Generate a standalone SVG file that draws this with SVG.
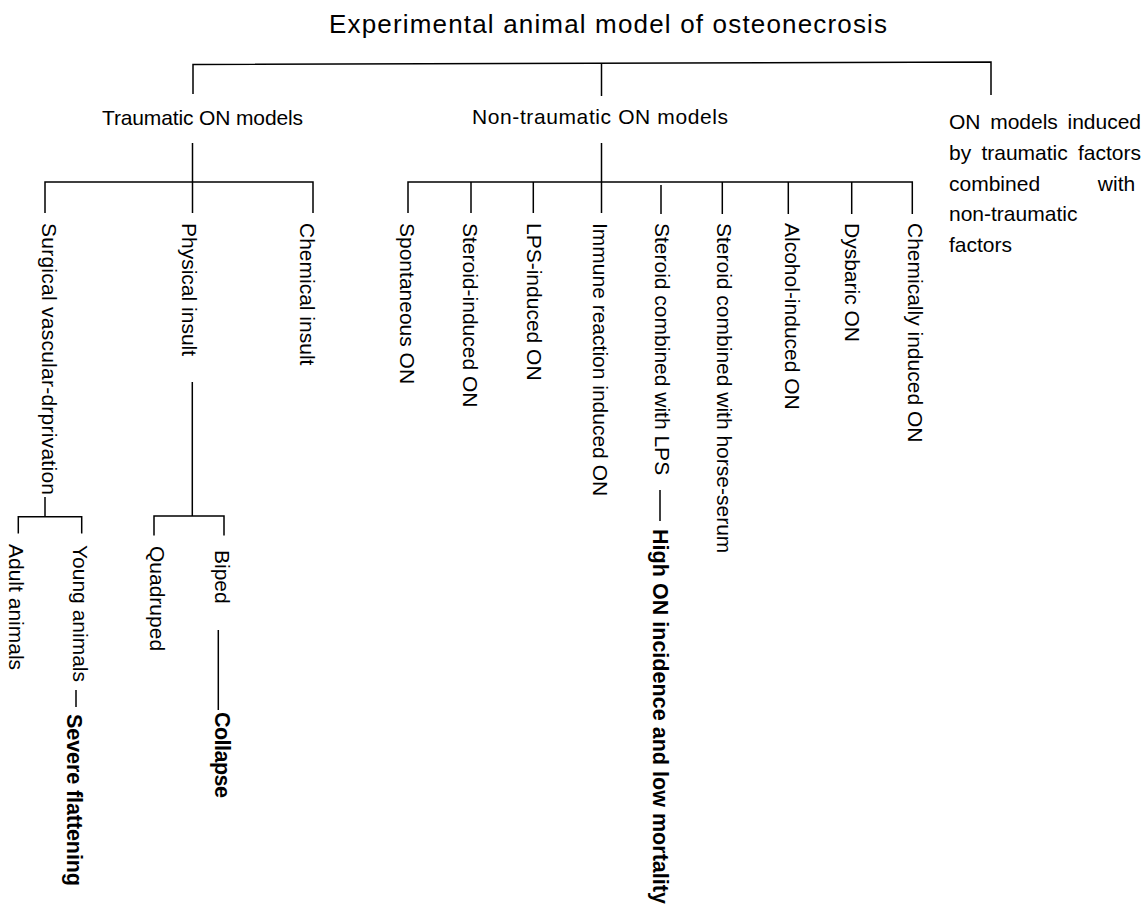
<svg xmlns="http://www.w3.org/2000/svg" width="1146" height="908" viewBox="0 0 1146 908">
<style>
text{font-family:"Liberation Sans",Arial,Helvetica,sans-serif;fill:#000;}
.t{font-size:21px;}
.b{font-size:21.5px;font-weight:bold;}
.title{font-size:26px;}
.c line,.c polyline{stroke:#000;stroke-width:1.5;fill:none;}
</style>
<rect width="1146" height="908" fill="#fff"/>
<g id="connectors" class="c">
<polyline points="193,94 193,64.5 991,62 991,95"/>
<line x1="601.5" y1="63" x2="601.5" y2="96"/>
<line x1="192.5" y1="143" x2="192.5" y2="213"/>
<polyline points="45,213 45,182 313,182 313,213"/>
<line x1="45" y1="497" x2="45" y2="516.7"/>
<polyline points="18.3,533.5 18.3,516.7 81.7,516.7 81.7,533.5"/>
<line x1="192.3" y1="382" x2="192.3" y2="516"/>
<polyline points="154,535.5 154,516 224,516 224,535.5"/>
<line x1="76" y1="690" x2="76" y2="707"/>
<line x1="218.3" y1="630" x2="218.3" y2="710"/>
<line x1="660" y1="490" x2="660" y2="521"/>
<line x1="601.5" y1="143" x2="601.5" y2="213"/>
<polyline points="408,213 408,182 912.3,182 912.3,214"/>
<line x1="471" y1="182" x2="471" y2="213"/>
<line x1="533.3" y1="182" x2="533.3" y2="213"/>
<line x1="661" y1="185" x2="661" y2="214"/>
<line x1="722.3" y1="182" x2="722.3" y2="214"/>
<line x1="788.3" y1="182" x2="788.3" y2="214"/>
<line x1="851.7" y1="182" x2="851.7" y2="214"/>
</g>
<g id="title"><text class="title" x="329" y="33" textLength="558">Experimental animal model of osteonecrosis</text></g>
<g id="traumatic"><text class="t" x="102" y="125" textLength="201">Traumatic ON models</text></g>
<g id="nontraumatic"><text class="t" x="472" y="124" textLength="256">Non-traumatic ON models</text></g>
<g id="combined"><text class="t">
<tspan x="949" y="129" word-spacing="3.8">ON models induced</tspan>
<tspan x="949" y="160" word-spacing="4.4">by traumatic factors</tspan>
<tspan x="949" y="190.5">combined</tspan><tspan x="1141" y="190.5" text-anchor="end">with</tspan>
<tspan x="949" y="221">non-traumatic</tspan>
<tspan x="949" y="252">factors</tspan>
</text></g>
<g id="surgical"><text class="t" transform="translate(42.3,223) rotate(90)" textLength="272">Surgical vascular-drprivation</text></g>
<g id="physical"><text class="t" transform="translate(181.7,223) rotate(90)">Physical insult</text></g>
<g id="chemical"><text class="t" transform="translate(300,223) rotate(90)">Chemical insult</text></g>
<g id="adult"><text class="t" transform="translate(9,544) rotate(90)">Adult animals</text></g>
<g id="young"><text class="t" transform="translate(73.3,545) rotate(90)">Young animals</text></g>
<g id="severe"><text class="b" transform="translate(66.7,714) rotate(90)" textLength="172">Severe flattening</text></g>
<g id="quadruped"><text class="t" transform="translate(150,546) rotate(90)">Quadruped</text></g>
<g id="biped"><text class="t" transform="translate(215,550) rotate(90)">Biped</text></g>
<g id="collapse"><text class="b" transform="translate(215,712) rotate(90)" textLength="86">Collapse</text></g>
<g id="spontaneous"><text class="t" transform="translate(400,223) rotate(90)">Spontaneous ON</text></g>
<g id="steroid"><text class="t" transform="translate(463.3,223) rotate(90)">Steroid-induced ON</text></g>
<g id="lps"><text class="t" transform="translate(526.7,223) rotate(90)">LPS-induced ON</text></g>
<g id="immune"><text class="t" transform="translate(593.3,223) rotate(90)">Immune reaction induced ON</text></g>
<g id="steroid-lps"><text class="t" transform="translate(655,223) rotate(90)">Steroid combined with LPS</text></g>
<g id="high"><text class="b" transform="translate(653,529) rotate(90)" textLength="375">High ON incidence and low mortality</text></g>
<g id="steroid-horse"><text class="t" transform="translate(716.7,223) rotate(90)">Steroid combined with horse-serum</text></g>
<g id="alcohol"><text class="t" transform="translate(785,223) rotate(90)">Alcohol-induced ON</text></g>
<g id="dysbaric"><text class="t" transform="translate(845,223) rotate(90)">Dysbaric ON</text></g>
<g id="chemically"><text class="t" transform="translate(908.3,223) rotate(90)">Chemically induced ON</text></g>
</svg>
